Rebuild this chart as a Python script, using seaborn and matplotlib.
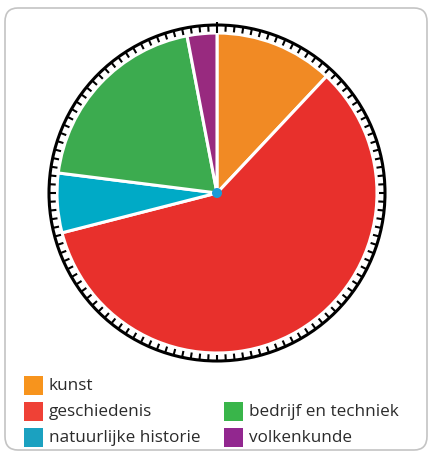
import numpy as np
import matplotlib
matplotlib.use("Agg")
import matplotlib.pyplot as plt
from matplotlib.patches import FancyBboxPatch, Rectangle, Circle
import seaborn as sns

# Collection shares (percent)
categories = ["kunst", "geschiedenis", "natuurlijke historie",
              "bedrijf en techniek", "volkenkunde"]
shares = [12, 59, 6, 20, 3]
slice_colors = ["#f18a24", "#e8302c", "#00aac6", "#3cab4f", "#982a7f"]
legend_colors = ["#f7941d", "#ef4136", "#1ba1c0", "#39b54a", "#92278f"]

sns.set_theme(style="white")
plt.rcParams["font.family"] = ["Open Sans", "DejaVu Sans"]

W, H = 430, 453
fig = plt.figure(figsize=(W / 100, H / 100), dpi=100)
fig.patch.set_facecolor("white")

# rounded frame around the whole graphic
frame = FancyBboxPatch((5 / W, 3 / H), 422 / W, 442 / H,
                       boxstyle="round,pad=0,rounding_size=0.03",
                       transform=fig.transFigure, facecolor="none",
                       edgecolor="#c4c4c4", linewidth=1.2)
fig.patches.append(frame)

# pie axes in pixel-like units, centred on the dial
cx, cy, half = 217, 193, 185
ax = fig.add_axes([(cx - half) / W, (H - cy - half) / H, 2 * half / W, 2 * half / H])
ax.set_xlim(-half, half)
ax.set_ylim(-half, half)
ax.set_aspect("equal")
ax.axis("off")

R = 160
ax.pie(shares, colors=sns.color_palette(slice_colors), radius=R,
       startangle=90, counterclock=False, center=(0, 0),
       wedgeprops=dict(edgecolor="white", linewidth=2.2))
ax.set_xlim(-half, half)
ax.set_ylim(-half, half)

# dial ring with tick marks
ring_r = 168
ax.add_patch(Circle((0, 0), ring_r, fill=False, edgecolor="black", linewidth=2.2))
n_ticks = 120
for k in range(n_ticks):
    a = np.pi / 2 - 2 * np.pi * k / n_ticks
    r0, r1 = (160.5, 171) if k == 0 else (161.5, ring_r)
    ax.plot([r0 * np.cos(a), r1 * np.cos(a)], [r0 * np.sin(a), r1 * np.sin(a)],
            color="black", linewidth=1.5, solid_capstyle="butt")

# centre hub
ax.add_patch(Circle((0, 0), 5, facecolor="#1a9ad6", edgecolor="none", zorder=5))

# legend laid out in two columns
lax = fig.add_axes([0, 0, 1, 1], facecolor="none")
lax.set_xlim(0, W)
lax.set_ylim(H, 0)
lax.axis("off")
slots = [(24, 385), (24, 411), (24, 437), (224, 411), (224, 437)]
for (x, y), name, col in zip(slots, categories, legend_colors):
    lax.add_patch(Rectangle((x, y - 9.5), 19, 19, facecolor=col, edgecolor="none"))
    lax.text(x + 25, y + 0.5, name, fontsize=12.3, color="#2b2b2b",
             va="center", ha="left")

fig.savefig("out.png", dpi=100, facecolor="white")
